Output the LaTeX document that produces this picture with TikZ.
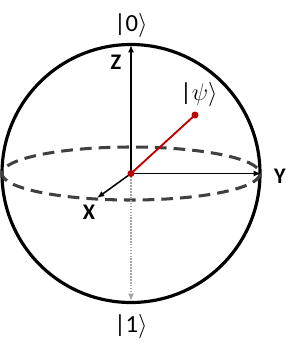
\documentclass[tikz,border=0pt]{standalone}
\usepackage{fontspec}
\setmainfont{Carlito}
\usetikzlibrary{arrows.meta,positioning}
\definecolor{psired}{RGB}{192,0,0}
\definecolor{equgray}{RGB}{64,64,64}
\definecolor{downgray}{RGB}{165,165,165}

\begin{document}
\begin{tikzpicture}[
  x=0.03cm, y=-0.03cm,
  >=Latex,
  sphere/.style={line width=2.7pt},
  equator/.style={draw=equgray, line width=2.6pt, dash pattern=on 10pt off 6pt},
  axis/.style={-{Latex[length=2.2mm,width=1.8mm]}, line width=1.3pt},
  downaxis/.style={-{Latex[length=2.2mm,width=1.8mm]}, draw=downgray, line width=1.8pt,
                   dash pattern=on 1.4pt off 1.1pt},
  axlabel/.style={font=\fontsize{19}{19}\selectfont\bfseries, inner sep=1pt},
  ket/.style={font=\fontsize{21}{21}\selectfont, inner sep=1pt},
  state/.style={draw=psired, line width=1.6pt}
]
  \useasboundingbox (0,0) rectangle (299,351);
  \coordinate (o) at (131,173.5);
  % sphere and its equator
  \draw[sphere] (o) circle[radius=129];
  \draw[equator] (o) ellipse[x radius=129, y radius=26.5];
  % axis end points
  \coordinate (ztip) at (131,45);
  \coordinate (ytip) at (261,173.5);
  \coordinate (xtip) at (97,198);
  \coordinate (btip) at (131,301);
  \coordinate (psitip) at (195,115);
  % axes
  \draw[downaxis] (o) -- (btip);
  \draw[axis] (o) -- (ztip);
  \draw[axis] (o) -- (ytip);
  \draw[axis] (o) -- (xtip);
  % the state vector
  \draw[state] (o) -- (psitip);
  \fill[psired] (o) circle[radius=3.5];
  \fill[psired] (psitip) circle[radius=3.5];
  % labels
  \node[ket] (zero) at (131,25) {|0$\rangle$};
  \node[ket] (one) at (131,326) {|1$\rangle$};
  \node[ket] (psi) at (199,94) {|$\psi$$\rangle$};
  \node[axlabel] (zlab) at (116,62) {Z};
  \node[axlabel] (ylab) at (280,176) {Y};
  \node[axlabel] (xlab) at (89,212) {X};
\end{tikzpicture}
\end{document}
